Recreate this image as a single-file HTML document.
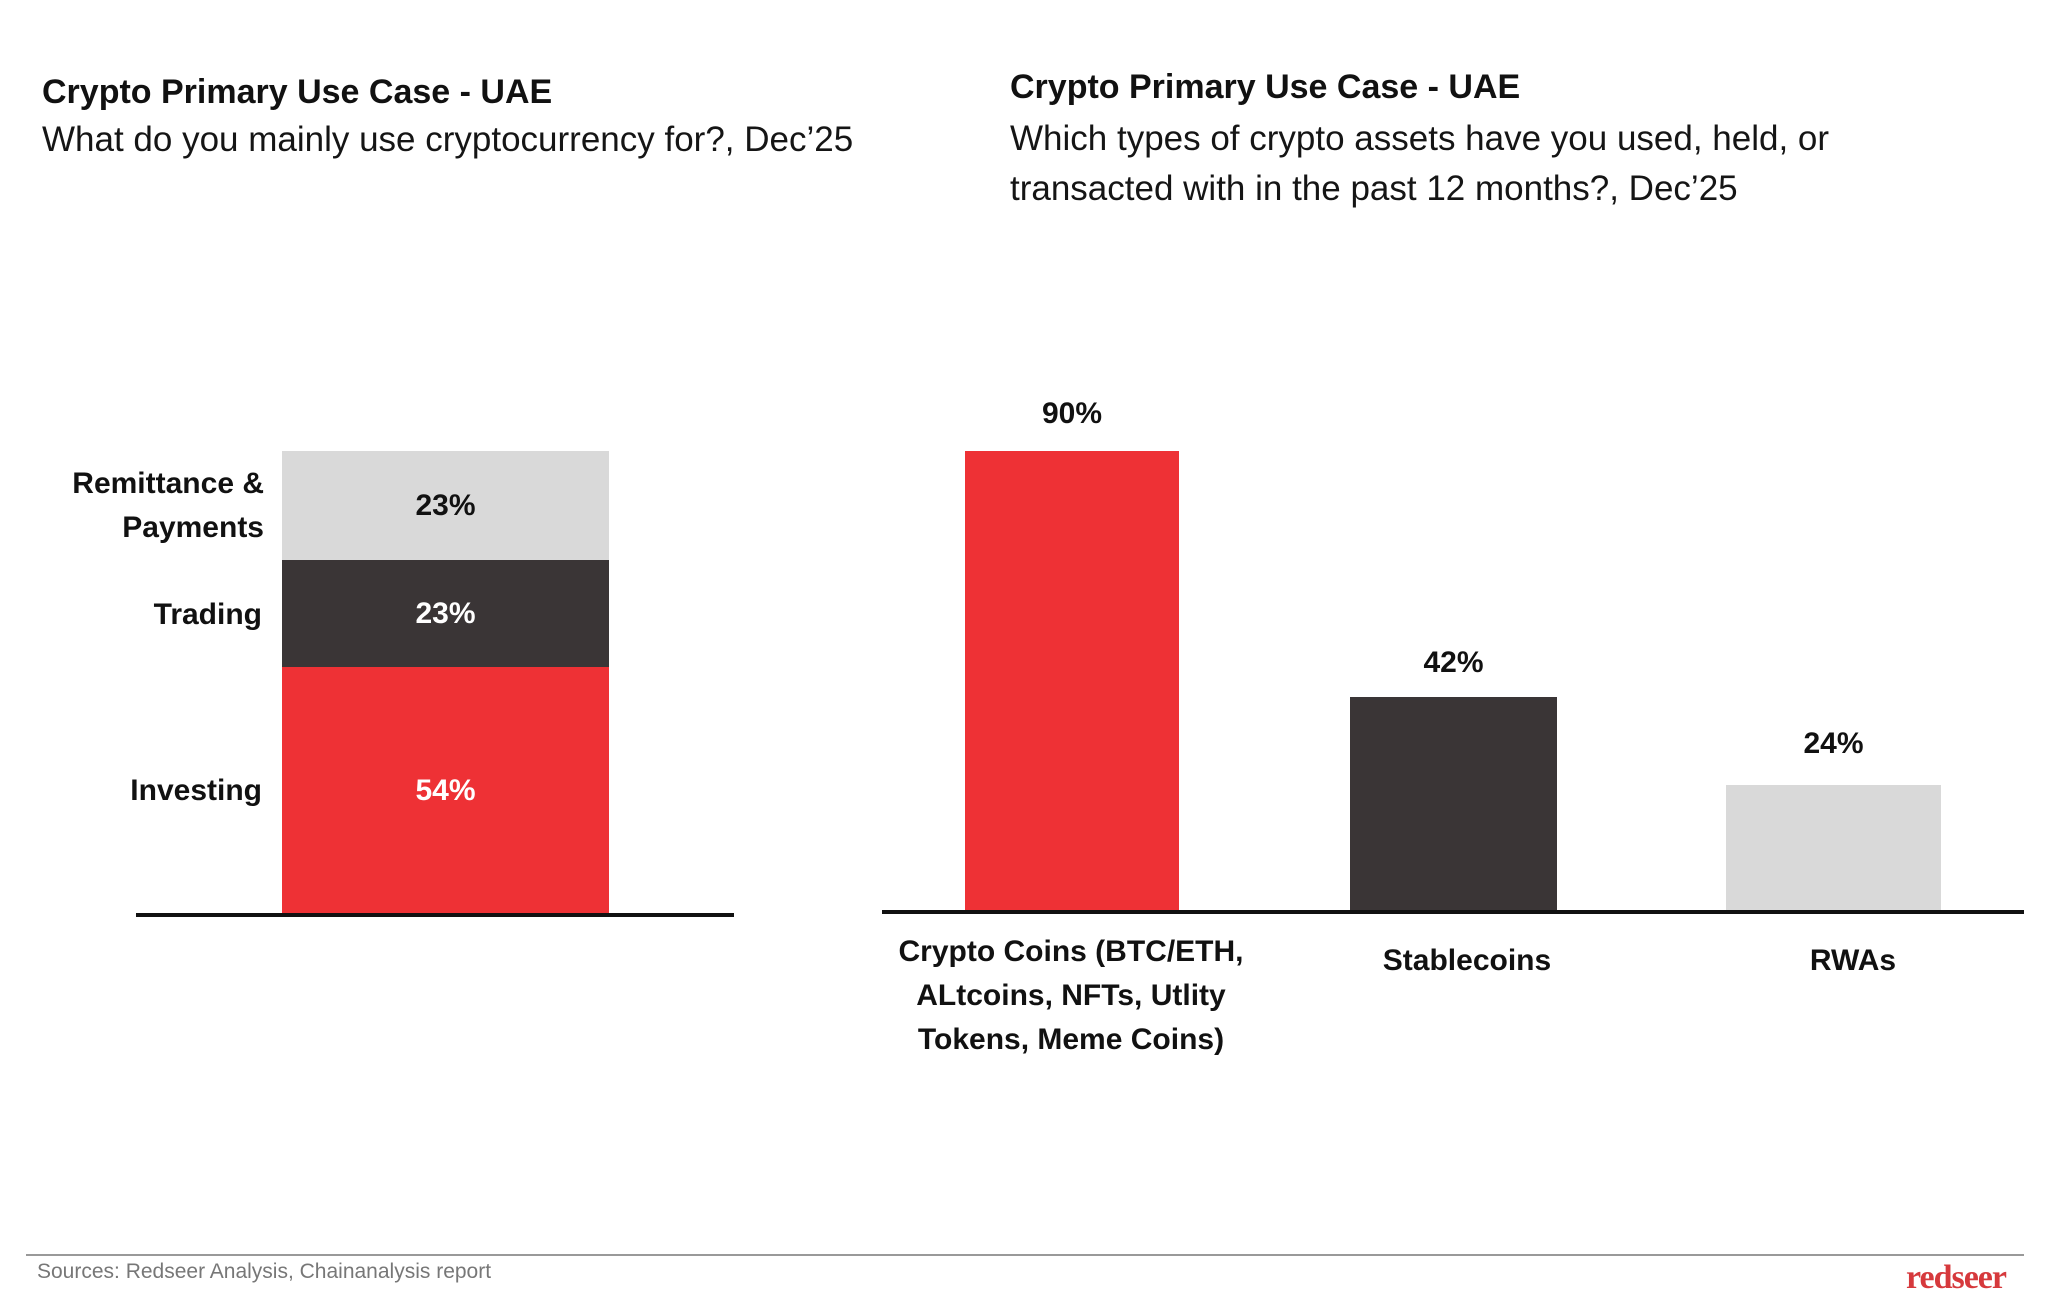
<!DOCTYPE html>
<html><head><meta charset="utf-8"><style>
body{margin:0;width:2048px;height:1311px;background:#fff;position:relative;overflow:hidden;font-family:"Liberation Sans",sans-serif;color:#111}
div{position:absolute}
.t{font-weight:bold;font-size:34px;white-space:nowrap}
.s{font-size:35px;white-space:nowrap;color:#151515;line-height:50px}
.l{font-weight:bold;font-size:30px;white-space:nowrap;line-height:44px}
.c{text-align:center}
</style></head><body>
<div class="t" style="left:42px;top:73px">Crypto Primary Use Case - UAE</div>
<div class="s" style="left:42px;top:115px">What do you mainly use cryptocurrency for?, Dec’25</div>
<div class="t" style="left:1010px;top:68px">Crypto Primary Use Case - UAE</div>
<div class="s" style="left:1010px;top:114px">Which types of crypto assets have you used, held, or<br>transacted with in the past 12 months?, Dec’25</div>

<div style="left:282px;top:451px;width:327px;height:109px;background:#d9d9d9"></div>
<div style="left:282px;top:560px;width:327px;height:107px;background:#3a3536"></div>
<div style="left:282px;top:667px;width:327px;height:247px;background:#ee3135"></div>
<div style="left:136px;top:913px;width:598px;height:4px;background:#111"></div>
<div class="l c" style="left:282px;width:327px;top:484px">23%</div>
<div class="l c" style="left:282px;width:327px;top:592px;color:#fff">23%</div>
<div class="l c" style="left:282px;width:327px;top:769px;color:#fff">54%</div>
<div class="l" style="right:1784px;top:462px;text-align:right">Remittance &amp;<br>Payments</div>
<div class="l" style="right:1786px;top:593px;text-align:right">Trading</div>
<div class="l" style="right:1786px;top:769px;text-align:right">Investing</div>

<div style="left:965px;top:451px;width:214px;height:462px;background:#ee3135"></div>
<div style="left:1350px;top:697px;width:207px;height:216px;background:#3a3536"></div>
<div style="left:1726px;top:785px;width:215px;height:128px;background:#d9d9d9"></div>
<div style="left:882px;top:910px;width:1142px;height:4px;background:#111"></div>
<div class="l c" style="left:965px;width:214px;top:392px">90%</div>
<div class="l c" style="left:1350px;width:207px;top:641px">42%</div>
<div class="l c" style="left:1726px;width:215px;top:722px">24%</div>
<div class="l c" style="left:871px;width:400px;top:930px">Crypto Coins (BTC/ETH,<br>ALtcoins, NFTs, Utlity<br>Tokens, Meme Coins)</div>
<div class="l c" style="left:1267px;width:400px;top:939px">Stablecoins</div>
<div class="l c" style="left:1653px;width:400px;top:939px">RWAs</div>

<div style="left:26px;top:1254px;width:1998px;height:2px;background:#999"></div>
<div style="left:37px;top:1260px;font-size:21px;color:#777">Sources: Redseer Analysis, Chainanalysis report</div>
<div style="left:1906px;top:1259px;font-family:'Liberation Serif',serif;font-weight:bold;font-size:34px;color:#d6393c;letter-spacing:-1px">redseer</div>
</body></html>
